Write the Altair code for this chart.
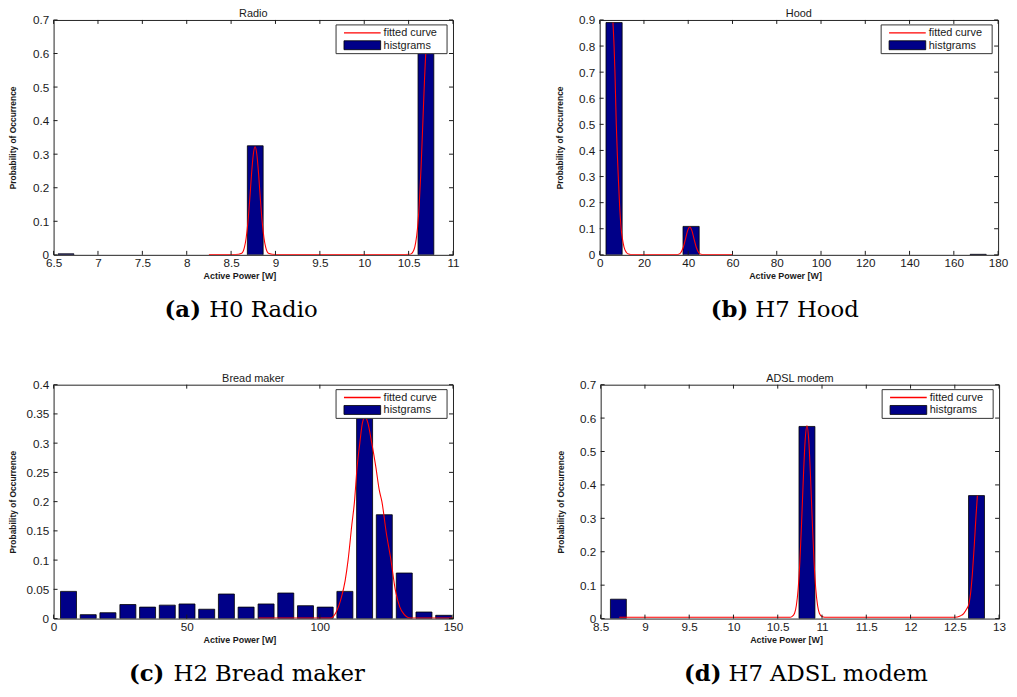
import altair as alt
import pandas as pd

# ---------------- data ----------------
radio_bar_centers = [6.64, 8.772, 10.695]
radio_bar_heights = [0.003, 0.325, 0.672]
radio_bar_width = 0.178
radio_curve_x = [8.25, 8.55, 8.62, 8.65, 8.67, 8.69, 8.71, 8.73, 8.75, 8.77, 8.79, 8.81, 8.83, 8.85,
                 8.87, 8.89, 8.92, 9.00, 10.40, 10.52, 10.56, 10.58, 10.60, 10.62, 10.64, 10.66,
                 10.68, 10.70, 10.72]
radio_curve_y = [0.001, 0.001, 0.005, 0.022, 0.051, 0.099, 0.165, 0.24, 0.299, 0.322, 0.299, 0.24,
                 0.165, 0.099, 0.051, 0.022, 0.005, 0.001, 0.001, 0.002, 0.015, 0.037, 0.079, 0.152,
                 0.259, 0.392, 0.528, 0.631, 0.67]
radio_xticks = [6.5, 7, 7.5, 8, 8.5, 9, 9.5, 10, 10.5, 11]
radio_yticks = [0, 0.1, 0.2, 0.3, 0.4, 0.5, 0.6, 0.7]

hood_bar_centers = [6.5, 41.3, 171.0]
hood_bar_heights = [0.89, 0.109, 0.002]
hood_bar_width = 7.3
hood_curve_x = [6.0, 6.5, 6.9, 7.5, 8.0, 8.4, 9.0, 9.7, 10.3, 11.0, 12.0, 13.0, 14.0, 35.0, 35.7,
                36.7, 37.7, 38.7, 39.7, 40.7, 41.7, 42.7, 43.7, 44.7, 45.7, 47.0, 60.0]
hood_curve_y = [0.89, 0.80, 0.70, 0.50, 0.38, 0.30, 0.19, 0.10, 0.06, 0.03, 0.01, 0.003, 0.001,
                0.001, 0.002, 0.009, 0.027, 0.058, 0.092, 0.107, 0.092, 0.058, 0.027, 0.009, 0.002,
                0.001, 0.001]
hood_xticks = [0, 20, 40, 60, 80, 100, 120, 140, 160, 180]
hood_yticks = [0, 0.1, 0.2, 0.3, 0.4, 0.5, 0.6, 0.7, 0.8, 0.9]

bread_bar_centers = [5.6, 13.0, 20.4, 27.9, 35.3, 42.7, 50.1, 57.5, 64.9, 72.3, 79.8, 87.2, 94.6,
                     102.0, 109.4, 116.8, 124.2, 131.7, 139.1, 146.5]
bread_bar_heights = [0.0465, 0.0067, 0.010, 0.024, 0.0196, 0.023, 0.025, 0.016, 0.042, 0.0196,
                     0.025, 0.0437, 0.022, 0.0196, 0.0465, 0.345, 0.1776, 0.0779, 0.0112, 0.0056]
bread_bar_width = 6.0
bread_curve_x = [77, 104, 106, 108, 109.5, 110.6, 112, 113, 114, 115, 116, 117, 118, 119.5, 121,
                 122.3, 123.3, 125, 126.7, 128.3, 130, 131.5, 134, 150]
bread_curve_y = [0.001, 0.001, 0.01, 0.035, 0.065, 0.10, 0.16, 0.20, 0.26, 0.30, 0.335, 0.345,
                 0.335, 0.30, 0.26, 0.22, 0.20, 0.145, 0.10, 0.05, 0.02, 0.008, 0.001, 0.001]
bread_xticks = [0, 50, 100, 150]
bread_yticks = [0, 0.05, 0.1, 0.15, 0.2, 0.25, 0.3, 0.35, 0.4]

adsl_bar_centers = [8.70, 10.83, 12.745]
adsl_bar_heights = [0.058, 0.575, 0.368]
adsl_bar_width = 0.18
adsl_curve_x = [8.71, 10.64, 10.66, 10.69, 10.71, 10.73, 10.75, 10.77, 10.79, 10.81, 10.83, 10.85,
                10.87, 10.89, 10.91, 10.93, 10.95, 10.97, 11.00, 11.03, 12.50, 12.56, 12.60, 12.63,
                12.66, 12.68, 12.70, 12.72, 12.74, 12.755]
adsl_curve_y = [0.004, 0.004, 0.006, 0.016, 0.039, 0.087, 0.171, 0.291, 0.426, 0.535, 0.578, 0.535,
                0.426, 0.291, 0.171, 0.087, 0.039, 0.016, 0.006, 0.004, 0.004, 0.008, 0.015, 0.027,
                0.045, 0.08, 0.14, 0.22, 0.31, 0.368]
adsl_xticks = [8.5, 9, 9.5, 10, 10.5, 11, 11.5, 12, 12.5, 13]
adsl_yticks = [0, 0.1, 0.2, 0.3, 0.4, 0.5, 0.6, 0.7]

legend_labels = ["fitted curve", "histgrams"]

# ---------------- style ----------------
NAVY = "#000088"
RED = "#ff0000"
FONT = "Liberation Sans"
SERIF = "DejaVu Serif"
INK = "#1a1a1a"
FMT = ".2~f"


def panel(title, xdom, ydom, xticks, yticks, centers, heights, bw, cx, cy, W, H,
          cap_tag, cap_name, cap_x):
    bars = pd.DataFrame({
        "x0": [c - bw / 2 for c in centers],
        "x1": [c + bw / 2 for c in centers],
        "y0": [0.0] * len(centers),
        "y1": heights,
    })
    curve = pd.DataFrame({"x": cx, "y": cy})
    xt = pd.DataFrame({"v": xticks})
    yt = pd.DataFrame({"v": yticks})
    one = pd.DataFrame({"k": [0]})

    xs = alt.Scale(domain=xdom, nice=False, zero=False)
    ys = alt.Scale(domain=ydom, nice=False, zero=False)

    xaxis = alt.Axis(values=xticks, format=FMT, title="Active Power [W]", domain=False,
                     ticks=False, grid=False, labelFlush=False, labelOverlap=False,
                     labelFont=FONT, labelFontSize=11.8, labelColor=INK, labelPadding=3,
                     titleFont=FONT, titleFontSize=9, titleFontWeight="bold", titleColor=INK,
                     titleX=W / 2 - 14, titleY=21, titleBaseline="middle")
    yaxis = alt.Axis(values=yticks, format=FMT, title="Probability of Occurrence", domain=False,
                     ticks=False, grid=False, labelFlush=False, labelOverlap=False,
                     labelFont=FONT, labelFontSize=11.8, labelColor=INK, labelPadding=5,
                     titleFont=FONT, titleFontSize=8.5, titleFontWeight="bold", titleColor=INK,
                     titleX=-41, titleY=H / 2, titleBaseline="middle")

    bar_layer = alt.Chart(bars).mark_rect(color=NAVY, stroke="#000000", strokeWidth=0.8,
                                           clip=True).encode(
        x=alt.X("x0:Q", scale=xs, axis=xaxis), x2="x1",
        y=alt.Y("y0:Q", scale=ys, axis=yaxis), y2="y1")

    line_layer = alt.Chart(curve).mark_line(color=RED, strokeWidth=1.1, clip=True,
                                            interpolate="monotone").encode(
        x=alt.X("x:Q", scale=xs, axis=xaxis), y=alt.Y("y:Q", scale=ys, axis=yaxis))

    tick_style = dict(color=INK, strokeWidth=1)
    xb = alt.Chart(xt).mark_rule(**tick_style).encode(
        x=alt.X("v:Q", scale=xs, axis=xaxis), y=alt.value(H), y2=alt.value(H - 4))
    xtop = alt.Chart(xt).mark_rule(**tick_style).encode(
        x=alt.X("v:Q", scale=xs, axis=xaxis), y=alt.value(0), y2=alt.value(4))
    yl = alt.Chart(yt).mark_rule(**tick_style).encode(
        y=alt.Y("v:Q", scale=ys, axis=yaxis), x=alt.value(0), x2=alt.value(4))
    yr = alt.Chart(yt).mark_rule(**tick_style).encode(
        y=alt.Y("v:Q", scale=ys, axis=yaxis), x=alt.value(W - 4), x2=alt.value(W))

    box = alt.Chart(one).mark_rect(fill="white", stroke="#333333", strokeWidth=1).encode(
        x=alt.value(W - 118), x2=alt.value(W - 6), y=alt.value(5), y2=alt.value(34))
    lg_line = alt.Chart(one).mark_rule(color=RED, strokeWidth=1.4).encode(
        x=alt.value(W - 110), x2=alt.value(W - 73), y=alt.value(13))
    lg_rect = alt.Chart(one).mark_rect(fill=NAVY, stroke="#000000", strokeWidth=0.8).encode(
        x=alt.value(W - 110), x2=alt.value(W - 73), y=alt.value(21), y2=alt.value(30))
    lg_t1 = alt.Chart(one).mark_text(text=legend_labels[0], align="left", baseline="middle",
                                     font=FONT, fontSize=11, color=INK).encode(
        x=alt.value(W - 70), y=alt.value(13))
    lg_t2 = alt.Chart(one).mark_text(text=legend_labels[1], align="left", baseline="middle",
                                     font=FONT, fontSize=11, color=INK).encode(
        x=alt.value(W - 70), y=alt.value(26))

    cap1 = alt.Chart(one).mark_text(text=cap_tag, align="left", baseline="alphabetic",
                                    font=SERIF, fontSize=23, fontWeight="bold",
                                    color="#000000").encode(
        x=alt.value(cap_x), y=alt.value(H + 63))
    cap2 = alt.Chart(one).mark_text(text=cap_name, align="left", baseline="alphabetic",
                                    font=SERIF, fontSize=23, color="#000000").encode(
        x=alt.value(cap_x + 45), y=alt.value(H + 63))

    return alt.layer(bar_layer, line_layer, xb, xtop, yl, yr, box, lg_line, lg_rect, lg_t1,
                     lg_t2, cap1, cap2).properties(
        width=W, height=H,
        title=alt.TitleParams(title, fontSize=11, font=FONT, fontWeight="normal", color=INK,
                              offset=-4, anchor="middle"))


pa = panel("Radio", [6.5, 11], [0, 0.7], radio_xticks, radio_yticks, radio_bar_centers,
           radio_bar_heights, radio_bar_width, radio_curve_x, radio_curve_y, 403, 237,
           "(a)", "H0 Radio", 112)
pb = panel("Hood", [0, 180], [0, 0.9], hood_xticks, hood_yticks, hood_bar_centers,
           hood_bar_heights, hood_bar_width, hood_curve_x, hood_curve_y, 402, 237,
           "(b)", "H7 Hood", 112)
pc = panel("Bread maker", [0, 150], [0, 0.4], bread_xticks, bread_yticks, bread_bar_centers,
           bread_bar_heights, bread_bar_width, bread_curve_x, bread_curve_y, 403, 236,
           "(c)", "H2 Bread maker", 76)
pd_ = panel("ADSL modem", [8.5, 13], [0, 0.7], adsl_xticks, adsl_yticks, adsl_bar_centers,
            adsl_bar_heights, adsl_bar_width, adsl_curve_x, adsl_curve_y, 402, 236,
            "(d)", "H7 ADSL modem", 84)

top = alt.hconcat(pa, pb, spacing=95)
bottom = alt.hconcat(pc, pd_, spacing=92)
chart = alt.vconcat(top, bottom, spacing=49).properties(
    padding={"left": 0, "top": -4, "right": 0, "bottom": 0},
    background="white",
).configure_view(stroke="#222222", strokeWidth=1)

chart.save("out.html", embed_options={"renderer": "svg", "actions": False})
